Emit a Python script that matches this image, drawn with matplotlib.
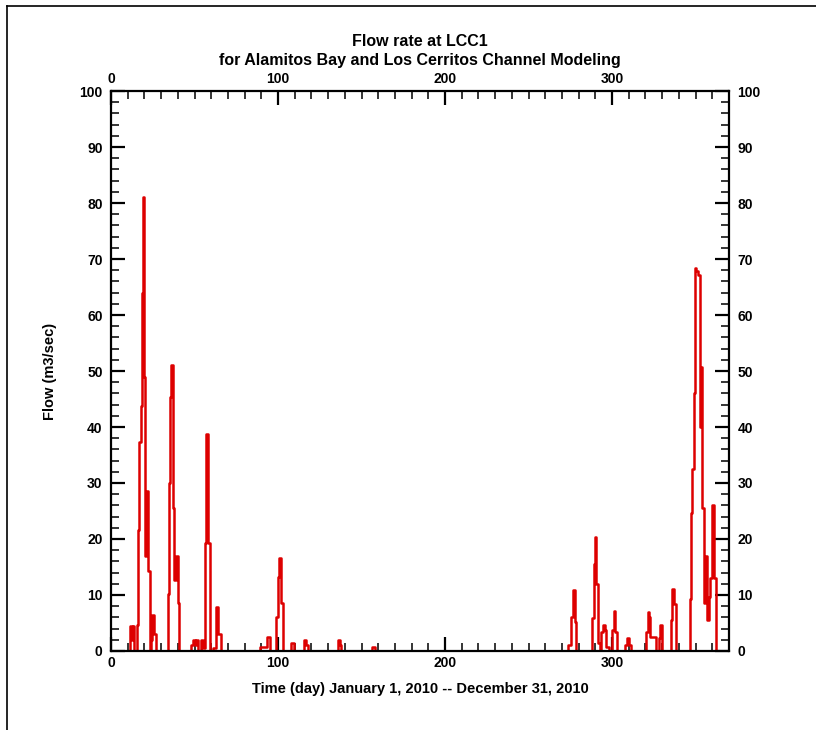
import numpy as np
import matplotlib
matplotlib.use("Agg")
import matplotlib.pyplot as plt
from matplotlib.lines import Line2D
from matplotlib.ticker import MultipleLocator

# Flow at LCC1 (day of year, m3/sec)
day = [0, 11.5, 12.3, 13.2, 13.8,
       15.5, 16.3, 17.0, 17.7, 18.5, 19.0, 20.0, 20.4, 21.0, 22.0, 23.5, 24.0, 24.7, 26.0, 27.0,
       34.0, 34.6, 35.2, 36.0, 37.0, 37.6, 39.0, 40.0, 41.0,
       48.0, 49.0, 50.0, 51.0, 52.0, 54.0, 55.0, 56.4, 57.0, 58.0, 59.0, 61.0, 63.0, 64.0, 65.6,
       89.0, 93.5, 95.0, 99.0, 100.0, 100.6, 102.0, 103.0,
       108.0, 109.5, 115.5, 116.5, 118.0, 136.0, 137.0, 138.0, 156.5, 157.8,
       273.5, 275.5, 276.5, 277.5, 278.5,
       288.1, 288.9, 289.5, 290.5, 291.5, 292.5, 293.5, 294.5, 295.5, 296.5, 298.0,
       300.0, 301.0, 302.0, 303.0, 308.0, 309.0, 310.0, 311.5,
       320.5, 321.3, 322.3, 323.0, 324.5, 326.0, 328.0, 328.9, 329.6,
       335.4, 336.0, 337.0, 338.0,
       346.4, 347.4, 348.0, 348.8, 349.6, 350.4, 351.2, 352.4, 352.9, 353.4, 353.8,
       355.0, 355.8, 357.0, 357.8, 358.8, 360.0, 361.2, 362.0]
flow = [0, 4.5, 2.0, 4.5, 0,
        4.6, 21.6, 37.3, 43.7, 64.0, 81.0, 49.0, 17.0, 28.6, 14.3, 0, 2.0, 6.4, 3.0, 0,
        10.2, 30.0, 45.4, 51.0, 25.5, 12.7, 17.0, 8.6, 0,
        1.0, 2.0, 1.0, 2.0, 0, 2.0, 0.5, 19.3, 38.7, 19.3, 0, 0.5, 7.9, 3.0, 0,
        0.7, 2.5, 0, 6.0, 13.3, 16.6, 8.5, 0,
        1.5, 0, 2.0, 1.0, 0, 2.0, 1.0, 0, 0.7, 0,
        1.0, 6.0, 10.9, 5.2, 0,
        5.9, 15.5, 20.3, 12.0, 1.4, 0, 3.4, 4.6, 3.7, 0.7, 0,
        3.7, 7.2, 3.4, 0, 1.0, 2.4, 1.0, 0,
        3.4, 7.0, 6.0, 2.5, 2.5, 0, 2.4, 4.6, 0,
        5.5, 11.0, 8.4, 0,
        9.3, 24.6, 32.5, 46.0, 68.4, 67.9, 67.1, 53.4, 40.0, 50.7, 25.5,
        8.6, 17.0, 5.5, 9.7, 13.0, 26.0, 13.0, 0]

plt.rcParams['font.family'] = ['Liberation Sans', 'DejaVu Sans']
plt.rcParams['font.weight'] = 'bold'

fig = plt.figure(figsize=(8.16, 7.3), dpi=100)
ax = fig.add_axes([111 / 816, 79 / 730, 618 / 816, 560 / 730])

ax.plot(day, flow, color='#dd0000', linewidth=1.8, drawstyle='steps-post')

ax.set_xlim(0, 370)
ax.set_ylim(0, 100)
ax.xaxis.set_major_locator(MultipleLocator(100))
ax.xaxis.set_minor_locator(MultipleLocator(10))
ax.yaxis.set_major_locator(MultipleLocator(10))
ax.yaxis.set_minor_locator(MultipleLocator(2))

ax.tick_params(which='both', direction='in', top=True, bottom=True, left=True, right=True,
               labeltop=True, labelright=True, labelsize=10, colors='black')
ax.tick_params(which='major', length=10, width=1.6)
ax.tick_params(which='minor', length=5.5, width=1.1)
ax.tick_params(axis='y', which='major', pad=6)
ax.tick_params(axis='x', which='major', pad=3.5)
for lab in ax.get_xticklabels() + ax.get_yticklabels():
    lab.set_fontweight('bold')
for sp in ax.spines.values():
    sp.set_linewidth(1.6)

ax.set_xlabel('Time (day) January 1, 2010 -- December 31, 2010', fontsize=10.5,
              fontweight='bold', labelpad=9)
ax.set_ylabel('Flow (m3/sec)', fontsize=10.5, fontweight='bold', labelpad=16)

fig.text(420 / 816, 1 - 42 / 730, 'Flow rate at LCC1', ha='center', va='center',
         fontsize=11.5, fontweight='bold')
fig.text(420 / 816, 1 - 60 / 730, 'for Alamitos Bay and Los Cerritos Channel Modeling',
         ha='center', va='center', fontsize=11.5, fontweight='bold')

# page border (left and top edges)
fig.add_artist(Line2D([7 / 816, 7 / 816], [0, 1 - 6 / 730], color='black', linewidth=1.2))
fig.add_artist(Line2D([7 / 816, 1], [1 - 6 / 730, 1 - 6 / 730], color='black', linewidth=1.2))

plt.savefig('out.png', dpi=100)
